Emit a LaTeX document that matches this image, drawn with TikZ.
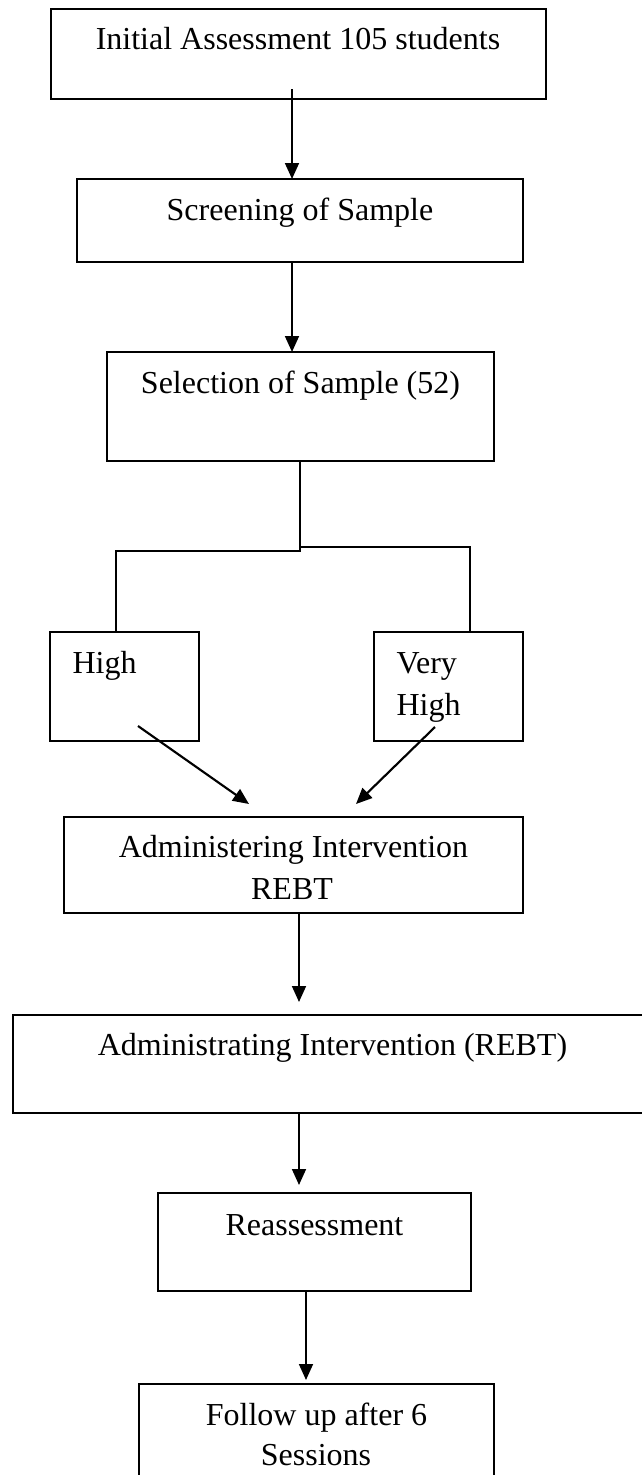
\documentclass[tikz,border=0pt]{standalone}
\usepackage{fontspec}
\setmainfont{Liberation Serif}
\usetikzlibrary{arrows.meta,calc}
\newcommand\mybox[5]{\node[boxst, minimum width={(#4-#2)*0.375pt}, minimum height={(#5-#3)*0.375pt}] (#1) at ({(#2+#4)/2},{(#3+#5)/2}) {};}
\begin{document}
\begin{tikzpicture}[x=0.375pt,y=-0.375pt,
  boxst/.style={draw=black, line width=0.65pt, inner sep=0pt, outer sep=0pt, rectangle},
  txt/.style={inner sep=0pt, anchor=base, font=\fontsize{12}{14}\selectfont},
  txtl/.style={txt, anchor=base west},
  arr/.style={draw=black, line width=0.8pt, -{Triangle[length=6pt,width=5.2pt]}},
  ln/.style={draw=black, line width=0.8pt}]
\useasboundingbox (0,0) rectangle (642,1475);
\fill[white] (0,0) rectangle (642,1475);
\clip (0,0) rectangle (642,1475);
% boxes
\mybox{b1}{51}{9}{546}{99}
\mybox{b2}{77}{179}{523}{262}
\mybox{b3}{107}{352}{494}{461}
\mybox{hi}{50}{632}{199}{741}
\mybox{vh}{374}{632}{523}{741}
\mybox{b4}{64}{817}{523}{913}
\mybox{b5}{13}{1015}{652}{1113}
\mybox{b6}{158}{1193}{471}{1291}
\mybox{b7}{139}{1384}{494}{1530}
% texts
\node[txt] (t1) at (298,49) {Initial Assessment 105 students};
\node[txt] (t2) at (300,220) {Screening of Sample};
\node[txt] (t3) at (300.5,393) {Selection of Sample (52)};
\node[txtl] (t4) at (72,673) {High};
\node[txtl] (t5a) at (396,673) {Very};
\node[txtl] (t5b) at (396,715) {High};
\node[txt] (t6a) at (293.5,857) {Administering Intervention};
\node[txt] (t6b) at (292,899) {REBT};
\node[txt] (t7) at (332.5,1055) {Administrating Intervention (REBT)};
\node[txt] (t8) at (314.5,1235) {Reassessment};
\node[txt] (t9a) at (316.5,1425) {Follow up after 6};
\node[txt] (t9b) at (316,1465) {Sessions};
% connector coordinates
\coordinate (c1) at (292,89);
\coordinate (c2) at (292,262);
\coordinate (c3) at (300,461);
\coordinate (jl) at (300,551);
\coordinate (jr) at (300,547);
\coordinate (hl) at (116,551);
\coordinate (hr) at (470,547);
\coordinate (d1s) at (138,726);
\coordinate (d1e) at (249,804);
\coordinate (d2s) at (435,727);
\coordinate (d2e) at (356,804);
\coordinate (c4s) at (299,913);
\coordinate (c4e) at (299,1002);
\coordinate (c5s) at (299,1113);
\coordinate (c5e) at (299,1185);
\coordinate (c6s) at (306,1291);
\coordinate (c6e) at (306,1380);
% connectors
\draw[arr] (c1) -- (c1 |- b2.north);
\draw[arr] (c2) -- (c2 |- b3.north);
\draw[ln] (c3) -- (jl) -- (hl) -- (hl |- hi.north);
\draw[ln] (jr) -- (hr) -- (hr |- vh.north);
\draw[arr] (d1s) -- (d1e);
\draw[arr] (d2s) -- (d2e);
\draw[arr] (c4s) -- (c4e);
\draw[arr] (c5s) -- (c5e);
\draw[arr] (c6s) -- (c6e);
\end{tikzpicture}
\end{document}
